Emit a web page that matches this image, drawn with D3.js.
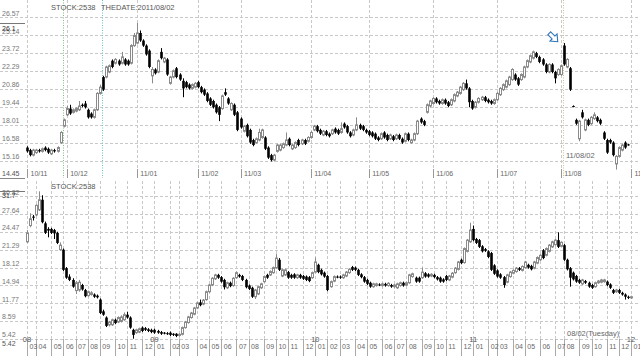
<!DOCTYPE html>
<html><head><meta charset="utf-8">
<script src="https://cdn.jsdelivr.net/npm/d3@7"></script>
<style>html,body{margin:0;padding:0;background:#fff;}svg{display:block;font-family:"Liberation Sans",Arial,sans-serif;}</style>
</head><body><svg id="c" width="640" height="356"></svg>
<script>
// ---------- TOP PANEL (daily) ----------
const topTicks = [15.16,16.58,18.01,19.44,20.86,22.29,23.72,25.14,26.57];
const topMax = 26.1, topMin = 14.45;
const topMonthLabels = ["10/11","10/12","11/01","11/02","11/03","11/04","11/05","11/06","11/07","11/08","11/09"];
const topMonthIdx = [0,13,36,56,70,93,112,133,154,175,198];
const topMarkIdx = [12,25,176];
const topMarkColor = ["#7bbf7b","#6cc3c8","#c9c28c"];
// [open, high, low, close]
const topCandles = [
[16.2,16.3,15.8,15.9],[16.0,16.1,15.5,15.6],[15.6,16.1,15.5,16.0],[15.8,16.1,15.7,16.0],[16.0,16.1,15.8,15.9],
[15.9,16.2,15.8,16.1],[16.2,16.3,15.9,16.0],[16.1,16.2,15.7,15.8],[15.7,16.1,15.6,16.0],[16.0,16.1,15.8,15.9],
[15.9,16.3,15.8,16.2],[16.6,17.5,16.5,17.4],[17.9,18.5,17.8,18.4],[18.8,19.5,18.7,19.3],[19.3,19.6,18.8,18.9],
[19.0,19.3,18.9,19.2],[19.1,19.4,19.0,19.3],[19.2,19.9,19.1,19.5],[19.6,19.7,19.4,19.5],[19.7,19.9,19.3,19.4],
[19.2,19.3,18.5,18.6],[18.9,19.0,18.5,18.6],[18.6,19.3,18.5,19.2],[19.2,20.6,19.1,20.5],[20.5,21.2,20.4,21.0],
[21.8,21.9,20.7,20.8],[21.8,22.7,21.7,22.6],[22.2,22.8,22.1,22.7],[23.1,23.2,22.5,22.6],[22.9,23.3,22.8,23.2],
[23.1,23.2,22.7,22.8],[22.9,23.8,22.8,23.4],[23.2,23.3,22.7,22.8],[23.1,23.2,22.7,22.8],[22.9,24.4,22.8,24.3],
[24.3,25.3,24.2,25.1],[24.5,26.1,24.4,25.3],[25.3,25.5,24.6,24.7],[24.7,24.8,24.2,24.3],[24.3,24.4,23.5,23.6],
[23.9,24.0,22.5,22.6],[21.9,22.6,21.3,22.4],[22.4,22.5,22.0,22.1],[22.2,23.2,22.1,23.1],[23.8,24.1,23.2,23.3],
[23.0,23.4,22.9,23.3],[23.2,23.3,21.9,22.0],[21.3,21.9,21.2,21.8],[21.8,22.4,21.7,22.3],[22.5,22.6,21.7,21.8],
[22.0,22.1,21.5,21.6],[21.5,21.7,20.2,20.9],[21.4,21.5,20.9,21.0],[21.2,21.3,20.8,20.9],[20.9,21.3,20.8,21.2],
[21.0,21.4,20.9,21.3],[21.4,21.5,20.9,21.0],[21.0,21.1,20.5,20.6],[20.8,20.9,20.3,20.4],[20.5,20.6,19.8,19.9],
[20.1,20.2,19.5,19.6],[19.9,20.0,19.3,19.4],[19.6,19.7,18.9,19.0],[19.4,19.5,18.3,18.8],[19.3,20.4,19.2,20.3],
[20.6,20.9,20.3,20.4],[20.1,20.2,19.6,19.7],[19.2,19.8,19.1,19.7],[19.6,19.7,18.7,18.8],[19.0,19.1,17.5,17.6],
[18.5,18.6,17.7,17.8],[17.5,18.0,17.4,17.9],[18.0,18.1,17.0,17.1],[17.6,17.7,16.5,16.6],[16.8,16.9,16.3,16.4],
[16.6,17.0,16.5,16.9],[16.8,17.7,16.7,17.4],[17.0,17.7,16.9,17.6],[17.0,17.1,16.0,16.1],[16.2,16.3,15.3,15.4],
[15.6,15.7,15.1,15.2],[15.2,15.7,15.1,15.6],[15.9,16.5,15.8,16.4],[16.0,16.5,15.9,16.4],[16.2,16.6,16.1,16.5],
[16.4,17.4,16.3,16.8],[16.9,17.0,16.3,16.4],[16.1,16.5,16.0,16.4],[16.2,16.7,16.1,16.6],[16.8,16.9,16.3,16.4],
[16.5,16.9,16.4,16.8],[16.8,16.9,16.4,16.5],[16.7,17.1,16.6,17.0],[17.0,17.5,16.9,17.4],[17.6,18.0,17.5,17.9],
[17.9,18.0,17.4,17.5],[17.6,17.7,17.2,17.3],[17.2,17.6,17.1,17.5],[17.5,17.6,17.1,17.2],[17.3,17.4,17.0,17.1],
[17.3,17.7,17.2,17.6],[17.7,17.8,17.3,17.4],[17.6,17.7,17.2,17.3],[17.4,18.2,17.3,17.7],[18.1,18.2,17.7,17.8],
[17.9,18.0,17.3,17.4],[17.4,17.5,17.0,17.1],[17.2,17.7,17.1,17.6],[17.6,18.6,17.5,18.0],[18.0,18.1,17.6,17.7],
[17.9,18.0,17.5,17.6],[17.6,17.7,17.3,17.4],[17.5,17.6,17.1,17.2],[17.4,17.5,17.0,17.1],[17.3,17.4,16.8,16.9],
[17.0,17.1,16.7,16.8],[16.9,17.4,16.8,17.3],[17.4,17.5,16.9,17.0],[17.2,17.3,16.7,16.8],[16.9,17.3,16.8,17.2],
[17.1,17.2,16.7,16.8],[16.9,17.3,16.8,17.2],[17.2,17.3,16.8,16.9],[16.9,17.0,16.5,16.6],[16.7,17.4,16.6,17.3],
[17.3,17.4,16.7,16.8],[16.6,16.9,16.5,16.8],[16.8,17.4,16.7,17.3],[17.3,18.4,17.2,18.3],[18.5,18.6,18.1,18.2],
[18.3,18.4,17.9,18.0],[19.0,19.7,18.9,19.6],[19.5,20.0,19.4,19.9],[19.7,20.2,19.6,20.1],[20.1,20.2,19.7,19.8],
[19.9,20.0,19.6,19.7],[19.7,20.1,19.6,20.0],[20.0,20.1,19.6,19.7],[19.8,19.9,19.4,19.5],[19.6,20.1,19.5,20.0],
[19.9,20.5,19.8,20.4],[20.3,20.7,20.2,20.6],[20.5,21.1,20.4,21.0],[20.8,21.4,20.7,21.3],[21.3,21.6,20.8,20.9],
[20.9,21.0,19.4,19.8],[19.9,20.0,19.2,19.3],[19.4,19.9,19.3,19.8],[19.8,20.2,19.7,20.1],[20.0,20.3,19.9,20.2],
[20.2,20.3,19.8,19.9],[20.0,20.1,19.7,19.8],[19.9,20.0,19.6,19.7],[19.7,20.1,19.6,20.0],[20.0,20.6,19.9,20.5],
[20.4,21.0,20.3,20.9],[20.8,21.3,20.7,21.2],[21.0,21.6,20.9,21.5],[21.2,21.9,21.1,21.8],[21.6,22.5,21.5,22.4],
[22.0,22.1,21.5,21.6],[21.7,21.8,21.1,21.2],[21.6,22.1,21.5,22.0],[21.8,22.7,21.7,22.6],[22.6,23.2,22.5,23.1],
[23.0,23.6,22.9,23.5],[23.3,23.9,23.2,23.8],[23.7,23.8,23.3,23.4],[23.4,23.5,22.9,23.0],[23.2,23.3,22.7,22.8],
[22.8,22.9,22.1,22.2],[22.2,22.9,22.1,22.8],[22.8,22.9,22.1,22.2],[22.2,22.3,21.3,21.7],[22.0,22.5,21.9,22.4],
[22.0,22.8,21.9,22.7],[24.3,24.5,22.7,22.8],[22.6,23.3,22.5,23.2],[22.5,22.6,20.7,20.8],[19.5,19.55,19.4,19.45],
[18.4,18.5,18.0,18.1],[16.9,18.4,16.7,18.3],[19.0,19.2,18.5,18.6],[17.6,18.5,17.5,18.4],[18.4,18.5,17.9,18.0],
[18.1,18.7,18.0,18.6],[18.5,19.0,18.4,18.8],[18.6,18.7,18.2,18.3],[18.4,18.5,18.0,18.1],[17.4,17.5,16.8,16.9],
[16.8,16.9,15.7,15.8],[16.8,16.9,16.5,16.6],[16.6,16.7,15.5,15.6],[14.9,15.6,14.45,15.5],[15.5,16.3,15.4,16.2],
[16.0,16.5,15.9,16.4],[16.6,16.7,16.1,16.2],[16.45,16.5,16.35,16.4]
];

// ---------- BOTTOM PANEL (weekly) ----------
const botTicks = [5.42,8.59,11.77,14.94,18.12,21.29,24.47,27.64,30.82];
const botMax = 31.7, botMin = 5.42;
const botMonthLabels = ["03","04","05","06","07","08","09","10","11","12",
 "01","02","03","04","05","06","07","08","09","10","11","12",
 "01","02","03","04","05","06","07","08","09","10","11","12",
 "01","02","03","04","05","06","07","08","09","10","11","12","01"];
const botMonthIdx = [0,3,8,12,16,20,24,29,33,38,
 42,47,50,56,60,64,69,73,78,82,86,91,
 95,99,103,108,112,117,121,125,130,134,138,143,
 147,152,155,160,164,169,174,177,182,186,191,195,199];
const botYearLabels = ["08","09","10","11","12"];
const botYearIdx = [0,42,95,147,199];
const botCandles = [
[22.7,24.8,22.5,24.3],[25.6,27.8,25.3,26.8],[27.2,27.5,26.5,27.0],[27.5,29.4,27.3,29.2],[28.4,31.7,28.2,30.2],
[30.2,31.0,26.0,26.2],[26.0,26.3,24.1,24.3],[25.0,25.3,23.5,24.7],[25.0,25.2,24.1,24.3],[24.8,25.0,23.2,24.2],
[24.3,24.5,22.3,22.5],[21.3,22.6,21.1,22.1],[21.3,21.5,17.5,17.7],[18.0,18.2,16.1,16.3],[16.5,16.9,15.7,15.9],
[15.9,16.2,14.5,14.7],[14.0,15.7,13.4,15.4],[14.1,15.9,13.8,15.5],[15.0,15.2,14.0,14.2],[14.1,14.3,12.8,13.0],
[13.1,14.0,12.9,13.8],[13.3,13.9,13.1,13.6],[13.3,13.5,12.7,12.9],[13.1,13.3,12.6,12.8],[12.4,12.6,9.8,10.0],
[10.3,10.6,9.5,9.7],[9.2,9.4,7.5,7.7],[7.9,8.6,7.6,8.4],[7.9,9.0,7.7,8.8],[8.8,9.0,8.0,8.2],
[8.4,9.4,8.2,9.2],[8.5,9.6,8.3,9.3],[8.8,10.1,8.6,9.7],[9.7,10.2,9.0,9.2],[9.2,9.4,7.2,7.4],
[7.0,7.2,5.42,6.1],[6.5,7.2,6.3,7.0],[6.6,7.4,6.4,7.2],[7.4,7.6,6.6,6.8],[7.3,7.5,6.8,7.0],
[7.1,7.3,6.6,6.8],[7.0,7.2,6.4,6.6],[7.0,7.2,6.3,6.5],[6.8,7.0,6.3,6.5],[6.6,6.8,6.1,6.3],
[6.5,6.6,6.2,6.4],[6.4,6.6,6.1,6.3],[6.5,6.7,5.9,6.1],[6.3,6.4,5.9,6.1],[6.3,6.4,5.7,5.9],
[6.0,6.4,5.8,6.2],[6.2,7.6,6.0,7.4],[7.4,8.6,7.2,8.4],[8.3,9.5,8.1,9.3],[9.2,10.2,9.0,10.0],
[9.8,11.1,9.6,10.9],[10.9,12.0,10.7,11.8],[11.9,12.4,11.2,11.4],[11.6,12.5,11.4,12.3],[12.4,14.0,12.2,13.8],
[13.8,15.2,13.6,15.0],[15.0,16.4,14.8,16.2],[16.1,17.0,15.9,16.8],[16.8,17.0,16.1,16.3],[16.4,16.6,15.4,15.6],
[15.9,16.1,14.2,14.6],[14.5,15.6,14.3,15.4],[15.4,15.6,14.6,14.8],[14.9,16.4,14.7,16.2],[16.3,17.4,16.1,17.2],
[16.8,17.0,16.3,16.5],[16.6,16.8,15.7,15.9],[15.9,16.1,14.4,14.6],[14.9,15.1,14.1,14.3],[14.5,14.7,12.7,12.9],
[12.9,14.3,12.5,14.1],[13.4,14.9,13.2,14.7],[14.5,15.4,14.3,15.2],[15.6,16.7,15.4,16.5],[16.8,17.0,16.1,16.3],
[16.8,17.6,16.6,17.4],[17.2,18.3,17.0,18.1],[18.1,20.5,17.9,19.8],[19.5,19.8,17.5,17.7],[16.6,17.9,16.4,17.7],
[16.8,17.9,16.6,17.7],[17.3,17.5,16.1,16.3],[16.8,17.0,16.1,16.3],[16.9,17.1,16.1,16.3],[16.3,17.0,16.1,16.8],
[16.8,17.0,16.1,16.3],[16.6,16.8,15.9,16.1],[16.5,16.7,15.7,15.9],[16.4,16.6,15.5,15.7],[16.3,17.4,16.1,17.2],
[17.3,19.9,17.1,19.1],[18.6,18.8,17.1,17.3],[17.7,17.9,16.7,16.9],[17.2,17.4,16.3,16.5],[16.6,16.8,13.9,14.1],
[14.7,15.8,14.5,15.6],[15.7,16.7,15.5,16.5],[16.5,16.7,16.2,16.4],[16.5,16.7,16.1,16.3],[16.3,17.0,16.1,16.8],
[16.6,17.5,16.4,17.3],[17.2,18.0,17.0,17.8],[18.2,18.4,17.5,17.7],[18.1,18.3,17.5,17.7],[17.7,17.9,16.6,16.8],
[16.9,17.1,16.2,16.4],[16.4,16.6,15.4,15.6],[15.9,16.1,15.0,15.2],[15.4,15.6,14.5,14.7],[14.7,15.4,14.5,15.2],
[14.9,15.4,14.7,15.2],[15.1,15.3,14.8,15.0],[14.9,15.4,14.7,15.2],[15.2,15.4,14.7,14.9],[14.9,15.5,14.7,15.3],
[15.0,15.2,14.5,14.7],[14.7,15.2,14.5,15.0],[14.5,15.4,14.3,15.2],[14.9,15.6,14.7,15.4],[15.4,15.6,14.7,14.9],
[15.0,15.6,14.8,15.4],[15.4,17.0,15.2,16.8],[16.5,17.2,16.3,17.0],[16.3,16.5,15.4,15.6],[16.3,16.5,15.4,15.6],
[16.3,18.1,16.1,17.3],[17.1,17.3,16.3,16.5],[16.9,17.1,16.3,16.5],[16.6,17.1,16.4,16.9],[16.8,17.0,16.2,16.4],
[16.4,16.6,15.8,16.0],[16.3,16.5,15.4,15.6],[16.0,16.2,15.4,15.6],[16.6,16.8,15.7,15.9],[15.9,16.8,15.7,16.6],
[16.4,17.3,16.2,17.1],[17.2,18.2,17.0,18.0],[17.8,19.3,17.6,19.1],[19.5,19.7,18.7,18.9],[19.0,21.7,18.8,21.5],
[21.0,23.2,20.8,23.0],[22.7,26.1,22.5,24.8],[25.0,25.6,22.8,23.0],[23.2,23.4,22.3,22.5],[23.0,23.2,21.6,21.8],
[21.9,22.1,20.8,21.0],[21.4,21.6,20.9,21.1],[21.0,21.2,19.8,20.0],[20.7,20.9,17.5,17.7],[18.5,18.7,16.8,17.0],
[17.6,17.8,16.3,16.5],[16.9,17.1,16.1,16.3],[16.4,16.6,14.5,15.0],[15.5,17.0,15.3,16.8],[16.5,17.5,16.3,17.3],
[17.1,17.8,16.9,17.6],[17.4,18.2,17.2,18.0],[18.0,18.2,17.5,17.7],[17.6,18.5,17.4,18.3],[18.1,19.3,17.9,19.1],
[18.6,18.8,17.9,18.1],[18.4,18.6,17.6,17.8],[18.0,19.3,17.8,19.1],[18.9,20.1,18.7,19.9],[19.5,20.5,19.3,20.3],
[21.2,21.4,19.6,19.8],[20.3,21.7,20.1,21.5],[21.0,22.3,20.8,22.1],[21.8,22.9,21.6,22.7],[22.2,23.2,22.0,23.0],
[23.0,24.4,21.6,21.8],[21.9,22.8,21.7,22.6],[22.1,22.3,19.3,19.5],[19.5,19.7,17.6,17.8],[18.0,18.2,14.7,16.3],
[17.2,17.4,15.8,16.0],[16.6,16.8,15.4,15.6],[15.9,16.1,15.2,15.4],[15.2,16.1,15.0,15.9],[15.7,15.9,15.2,15.4],
[15.4,15.6,14.5,14.7],[15.0,15.2,14.3,14.5],[14.7,15.6,14.5,15.4],[15.4,15.9,15.2,15.7],[15.5,16.1,15.3,15.9],
[15.6,16.1,15.4,15.9],[15.6,15.8,14.8,15.0],[15.1,15.3,14.3,14.5],[14.1,14.3,13.4,13.6],[13.8,14.3,13.6,14.1],
[14.1,14.3,13.4,13.6],[13.6,13.8,13.1,13.3],[13.3,13.5,12.4,12.9],[12.9,13.1,12.5,12.7],[12.7,13.1,12.5,12.9]
];

// ---------- DRAW ----------
const svg = d3.select("#c");
const W = 640;
const GRID = "#c9c9c9", TXT = "#777";

function panel(cfg){
  const g = svg.append("g");
  const x = d3.scaleLinear().domain(cfg.xDomain).range(cfg.xRange);
  const y = d3.scaleLinear().domain(cfg.yDomain).range(cfg.yRange);
  const yBottom = y(cfg.yDomain[0]);
  // horizontal grid
  g.selectAll(".hg").data(cfg.ticks).join("line")
    .attr("x1",0).attr("x2",W)
    .attr("y1",d=>Math.round(y(d))+0.5).attr("y2",d=>Math.round(y(d))+0.5)
    .attr("stroke",GRID).attr("stroke-dasharray","3,2").attr("stroke-width",1);
  g.selectAll(".hl").data(cfg.ticks).join("text")
    .attr("x",2).attr("y",d=>y(d)-1.5)
    .attr("font-size",7).attr("fill",TXT).text(d=>d.toFixed(2).replace(/0$/,"").replace(/\.$/,""));
  // vertical grid
  g.selectAll(".vg").data(cfg.monthIdx).join("line")
    .attr("x1",d=>Math.round(x(d))+0.5).attr("x2",d=>Math.round(x(d))+0.5)
    .attr("y1",cfg.gridTop).attr("y2",yBottom)
    .attr("stroke",GRID).attr("stroke-dasharray","3,2");
  return {g,x,y,yBottom};
}

function candles(g, data, x, y){
  const cg = g.append("g");
  data.forEach((d,i)=>{
    const [o,h,l,c] = d;
    const cx = Math.round(x(i))+0.5;
    const up = c >= o;
    const col = up ? "#8a8a8a" : "#000";
    cg.append("line").attr("x1",cx).attr("x2",cx).attr("y1",y(h)).attr("y2",y(l))
      .attr("stroke",col).attr("stroke-width",1);
    if(up){
      const yt = y(c), yb = y(o);
      cg.append("rect").attr("x",cx-1).attr("y",yt).attr("width",2).attr("height",Math.max(0.8,yb-yt))
        .attr("fill","#fff").attr("stroke",col).attr("stroke-width",1);
    } else {
      const yt = y(o), yb = y(c);
      cg.append("rect").attr("x",cx-1.3).attr("y",yt).attr("width",2.6).attr("height",Math.max(1,yb-yt))
        .attr("fill","#000");
    }
  });
}

// TOP
const T = panel({xDomain:[0,198], xRange:[27,631], yDomain:[topMin,26.57], yRange:[169.6,17],
  ticks:topTicks, monthIdx:topMonthIdx, gridTop:0});
// coloured marker lines
topMarkIdx.forEach((d,k)=>{
  T.g.append("line").attr("x1",Math.round(T.x(d))-0.5).attr("x2",Math.round(T.x(d))-0.5)
    .attr("y1",0).attr("y2",178).attr("stroke",topMarkColor[k]).attr("stroke-dasharray","1,1.5");
});
candles(T.g, topCandles, T.x, T.y);
// axis ticks & labels
T.g.selectAll(".tt").data(topMonthIdx).join("line")
  .attr("x1",d=>Math.round(T.x(d))+0.5).attr("x2",d=>Math.round(T.x(d))+0.5)
  .attr("y1",169).attr("y2",178).attr("stroke","#999");
T.g.selectAll(".tl").data(topMonthIdx).join("text")
  .attr("x",d=>T.x(d)+3.5).attr("y",175.5).attr("font-size",7).attr("fill","#666")
  .text((d,i)=>topMonthLabels[i]);
// max/min markers
T.g.append("line").attr("x1",0).attr("x2",25).attr("y1",Math.round(T.y(topMax))+0.5).attr("y2",Math.round(T.y(topMax))+0.5).attr("stroke","#777");
T.g.append("text").attr("x",2).attr("y",T.y(topMax)+8.5).attr("font-size",7).attr("fill","#333").text(topMax);
T.g.append("text").attr("x",2).attr("y",175.5).attr("font-size",7).attr("fill","#555").text(topMin.toFixed(2));
T.g.append("line").attr("x1",0).attr("x2",25).attr("y1",178.5).attr("y2",178.5).attr("stroke","#888");
// titles
svg.append("text").attr("x",51).attr("y",9.5).attr("font-size",7.5).attr("fill","#555").text("STOCK:2538");
svg.append("text").attr("x",101).attr("y",9.5).attr("font-size",7.5).attr("fill","#555").text("THEDATE:2011/08/02");
svg.append("text").attr("x",566).attr("y",157.5).attr("font-size",7.5).attr("fill","#666").text("11/08/02");
// arrow
svg.append("path")
  .attr("d","M-6,-2 L0,-2 L0,-5 L6,0 L0,5 L0,2 L-6,2 Z")
  .attr("transform","translate(553.5,37.5) rotate(45)")
  .attr("fill","#fff").attr("stroke","#2f74b8").attr("stroke-width",1.1);

// BOTTOM
const B = panel({xDomain:[0,199], xRange:[27,631], yDomain:[botMin,30.82], yRange:[338.7,196.3],
  ticks:botTicks, monthIdx:botMonthIdx, gridTop:181});
candles(B.g, botCandles, B.x, B.y);
B.g.selectAll(".bt").data(botMonthIdx).join("line")
  .attr("x1",d=>Math.round(B.x(d))+0.5).attr("x2",d=>Math.round(B.x(d))+0.5)
  .attr("y1",339).attr("y2",356).attr("stroke","#aaa");
B.g.selectAll(".bl").data(botMonthIdx).join("text")
  .attr("x",d=>B.x(d)+2.5).attr("y",349).attr("font-size",7).attr("fill","#666")
  .text((d,i)=>botMonthLabels[i]);
B.g.selectAll(".by").data(botYearIdx).join("text")
  .attr("x",d=>B.x(d)).attr("y",341.5).attr("text-anchor","middle").attr("font-size",7.5).attr("fill","#555")
  .text((d,i)=>botYearLabels[i]);
B.g.append("line").attr("x1",0).attr("x2",25).attr("y1",Math.round(B.y(botMax))+0.5).attr("y2",Math.round(B.y(botMax))+0.5).attr("stroke","#777");
B.g.append("text").attr("x",2).attr("y",B.y(botMax)+6.5).attr("font-size",7).attr("fill","#333").text(botMax);
B.g.append("text").attr("x",2).attr("y",345.5).attr("font-size",7).attr("fill","#555").text(botMin.toFixed(2));
svg.append("text").attr("x",51).attr("y",188.5).attr("font-size",7.5).attr("fill","#555").text("STOCK:2538");
svg.append("text").attr("x",567).attr("y",335.5).attr("font-size",7.5).attr("fill","#666").text("08/02(Tuesday)");
</script></body></html>
